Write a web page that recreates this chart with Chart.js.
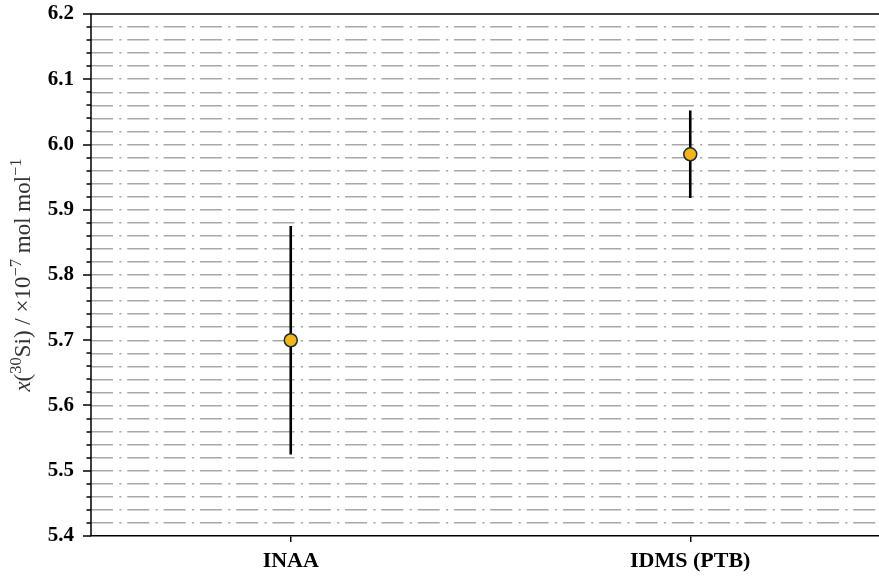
<!DOCTYPE html>
<html>
<head>
<meta charset="utf-8">
<script src="https://cdn.jsdelivr.net/npm/chart.js@4/dist/chart.umd.min.js"></script>
<style>
  html, body { margin: 0; padding: 0; background: #fff; overflow: hidden; }
  canvas { display: block; }
</style>
</head>
<body>
<canvas id="c" width="900" height="576"></canvas>
<script>
// Measurement methods and the x(30Si) results with their uncertainties
const methods = ['INAA', 'IDMS (PTB)'];
const values = [5.700, 5.985];
const uncertainties = [0.175, 0.067];

// Y axis range and tick spacing
const yMin = 5.4;
const yMax = 6.2;
const majorStep = 0.1;
const minorStep = 0.02;

const SERIF = "'Liberation Serif', 'DejaVu Serif', serif";

function isMajor(v) {
  const n = v / majorStep;
  return Math.abs(n - Math.round(n)) < 1e-6;
}

// Vertical error bars, one line segment per method
const errorBarSets = methods.map((m, i) => ({
  type: 'line',
  data: [
    { x: m, y: values[i] - uncertainties[i] },
    { x: m, y: values[i] + uncertainties[i] }
  ],
  borderColor: '#000',
  borderWidth: 2.6,
  borderCapStyle: 'butt',
  pointRadius: 0,
  pointHoverRadius: 0,
  showLine: true,
  fill: false
}));

// Y axis spine, minor/major tick marks and the closing top/right frame
const framePlugin = {
  id: 'frame',
  afterDatasetsDraw(chart) {
    const { ctx, chartArea, scales } = chart;
    const y = scales.y;
    ctx.save();
    ctx.setLineDash([]);
    ctx.strokeStyle = '#000';
    ctx.lineWidth = 1.5;
    ctx.beginPath();
    y.ticks.forEach(t => {
      const py = Math.round(y.getPixelForValue(t.value));
      const len = isMajor(t.value) ? 8 : 4.5;
      ctx.moveTo(chartArea.left, py);
      ctx.lineTo(chartArea.left - len, py);
    });
    ctx.stroke();
    ctx.beginPath();
    ctx.moveTo(chartArea.left, chartArea.bottom);
    ctx.lineTo(chartArea.left, chartArea.top);
    ctx.lineTo(chartArea.right, chartArea.top);
    ctx.lineTo(chartArea.right, chartArea.bottom);
    ctx.stroke();
    ctx.restore();
  }
};

// Y axis title with italic symbol and superscripts
const yTitleParts = [
  { t: 'x', italic: true },
  { t: '(' },
  { t: '30', sup: true },
  { t: 'Si) / \u00d710' },
  { t: '\u22127', sup: true },
  { t: ' mol mol' },
  { t: '\u22121', sup: true }
];

const yTitlePlugin = {
  id: 'yTitle',
  afterDraw(chart) {
    const { ctx, chartArea } = chart;
    const base = 23, supSize = 16.5, rise = 9.5;
    const fontFor = p => (p.italic ? 'italic ' : '') + (p.sup ? supSize : base) + 'px ' + SERIF;
    ctx.save();
    let total = 0;
    const widths = yTitleParts.map(p => {
      ctx.font = fontFor(p);
      const w = ctx.measureText(p.t).width;
      total += w;
      return w;
    });
    const cy = (chartArea.top + chartArea.bottom) / 2;
    ctx.translate(30, cy);
    ctx.rotate(-Math.PI / 2);
    ctx.fillStyle = '#333';
    ctx.textBaseline = 'alphabetic';
    ctx.textAlign = 'left';
    let x = -total / 2;
    yTitleParts.forEach((p, i) => {
      ctx.font = fontFor(p);
      ctx.fillText(p.t, x, p.sup ? -rise : 0);
      x += widths[i];
    });
    ctx.restore();
  }
};

new Chart(document.getElementById('c'), {
  type: 'line',
  data: {
    labels: methods,
    datasets: [
      {
        data: values,
        showLine: false,
        pointRadius: 6.5,
        pointHoverRadius: 6.5,
        pointBackgroundColor: '#f4b41a',
        pointBorderColor: '#1b2f33',
        pointBorderWidth: 1.5
      },
      ...errorBarSets
    ]
  },
  options: {
    responsive: false,
    animation: false,
    devicePixelRatio: 1,
    layout: { autoPadding: false, padding: { top: 14, right: 10, left: 0, bottom: 0 } },
    plugins: { legend: { display: false }, tooltip: { enabled: false } },
    scales: {
      x: {
        type: 'category',
        offset: true,
        afterFit: s => { s.height = 40; s.paddingLeft = 0; s.paddingRight = 0; },
        grid: {
          offset: false,
          drawOnChartArea: false,
          drawTicks: true,
          tickLength: 6,
          color: '#000',
          lineWidth: 1.5
        },
        border: { display: true, color: '#000', width: 1.5 },
        ticks: {
          color: '#000',
          padding: 6,
          font: { family: SERIF, size: 22, weight: 'bold' }
        }
      },
      y: {
        min: yMin,
        max: yMax,
        afterFit: s => { s.width = 91; s.paddingTop = 0; s.paddingBottom = 0; },
        grid: {
          drawTicks: false,
          color: ctx => {
            const v = ctx.tick ? ctx.tick.value : null;
            if (v === null || Math.abs(v - yMin) < 1e-6 || Math.abs(v - yMax) < 1e-6) return 'rgba(0,0,0,0)';
            return '#a8a8a8';
          },
          lineWidth: 1.5
        },
        border: { display: false, dash: [22, 6.3, 2.2, 5.8], dashOffset: 0 },
        ticks: {
          stepSize: minorStep,
          autoSkip: false,
          padding: 17,
          color: '#000',
          font: { family: SERIF, size: 21, weight: 'bold' },
          callback: v => (isMajor(v) ? v.toFixed(1) : '')
        }
      }
    }
  },
  plugins: [framePlugin, yTitlePlugin]
});
</script>
</body>
</html>
